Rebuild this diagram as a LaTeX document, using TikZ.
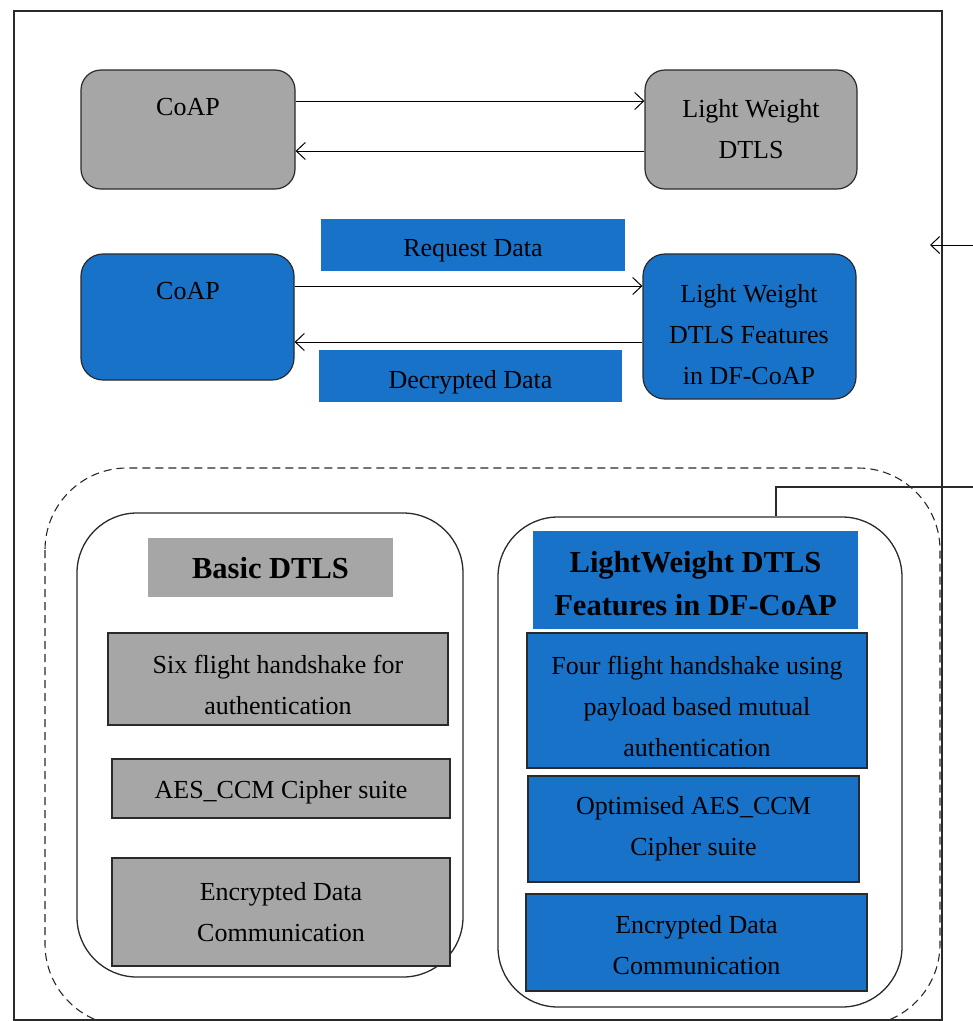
\documentclass[tikz,border=0pt]{standalone}
\usepackage{fontspec}
\setmainfont{Liberation Serif}
\usetikzlibrary{arrows.meta}
\definecolor{boxgray}{HTML}{A6A6A6}
\definecolor{boxblue}{HTML}{1872C8}
\definecolor{edge}{HTML}{2A2A2A}

\begin{document}
\begin{tikzpicture}[x=1pt,y=-1pt,
  txt/.style={font=\fontsize{26}{41}\selectfont, align=center, inner sep=0pt},
  hdrtxt/.style={font=\bfseries\fontsize{30.5}{43}\selectfont, align=center, inner sep=0pt},
  roundgray/.style={draw=edge, line width=1.2pt, fill=boxgray, rounded corners=20pt, inner sep=0pt},
  roundblue/.style={draw=edge, line width=1.2pt, fill=boxblue, rounded corners=22pt, inner sep=0pt},
  flatgray/.style={draw=edge, line width=1.2pt, fill=boxgray, inner sep=0pt},
  flatblue/.style={draw=edge, line width=1.2pt, fill=boxblue, inner sep=0pt},
  tagblue/.style={fill=boxblue, inner sep=0pt},
  taggray/.style={fill=boxgray, inner sep=0pt},
  panel/.style={draw=edge, line width=1.3pt, rounded corners=60pt, inner sep=0pt},
  arr/.style={draw=black, line width=1pt, -{Straight Barb[length=9pt,width=17pt,line width=1pt]}}
]
\clip (0,0) rectangle (973,1021);
\fill[white] (0,0) rectangle (973,1021);

% outer frame
\draw[edge, line width=1.2pt] (14,11) rectangle (942,1020);

% upper row: plain CoAP with lightweight DTLS
\node[roundgray, minimum width=214, minimum height=119] (coapA) at (188,129.5) {};
\node[txt] (coapAtxt) at (188,107) {CoAP};
\node[roundgray, minimum width=212, minimum height=119] (lwA) at (751,129.5) {};
\node[txt] (lwAtxt) at (lwA.center) {Light Weight\\DTLS};
\draw[arr] ([yshift=28.5pt]coapA.east) -- ([yshift=28.5pt]lwA.west);
\draw[arr] ([yshift=-21.5pt]lwA.west) -- ([yshift=-21.5pt]coapA.east);

% second row: DF-CoAP exchange
\node[roundblue, minimum width=213, minimum height=126] (coapB) at (187.5,317) {};
\node[txt] (coapBtxt) at (188,291) {CoAP};
\node[roundblue, minimum width=213, minimum height=145] (lwB) at (749.5,326.5) {};
\node[txt] (lwBtxt) at (749,335) {Light Weight\\DTLS Features\\in DF-CoAP};
\node[tagblue, minimum width=304, minimum height=52] (req) at (473,245) {};
\node[txt] (reqTxt) at ([yshift=-6pt]req.center) {Request Data};
\node[tagblue, minimum width=303, minimum height=52] (dec) at (470.5,376) {};
\node[txt] (decTxt) at ([yshift=-6pt]dec.center) {Decrypted Data};
\draw[arr] ([yshift=31pt]coapB.east) -- ([yshift=40.5pt]lwB.west);
\draw[arr] ([yshift=-15.5pt]lwB.west) -- ([yshift=-25pt]coapB.east);

% feed arrow entering from the right
\coordinate (feedTop) at (973,245);
\coordinate (feedTopEnd) at (930,245);
\draw[arr] (feedTop) -- (feedTopEnd);

% comparison group
\draw[edge, line width=1.1pt, dash pattern=on 8pt off 5pt, rounded corners=82pt] (45,468) rectangle (940,1026);

\node[panel, minimum width=386, minimum height=464] (leftPanel) at (270,745) {};
\node[panel, minimum width=404, minimum height=490] (rightPanel) at (700,762) {};

\coordinate (feedLow) at (973,487);
\draw[edge, line width=1.2pt] (feedLow) -| ([xshift=76pt]rightPanel.north);

% basic DTLS column
\node[taggray, minimum width=245, minimum height=59] (basicHdr) at (270.5,567.5) {};
\node[hdrtxt] (basicHdrTxt) at ([yshift=-1pt]basicHdr.center) {Basic DTLS};
\node[flatgray, minimum width=340, minimum height=92] (six) at (278,679) {};
\node[txt] (sixTxt) at ([yshift=-6pt]six.center) {Six flight handshake for\\authentication};
\node[flatgray, minimum width=338, minimum height=59] (aes) at (281,788.5) {};
\node[txt] (aesTxt) at ([yshift=-4pt]aes.center) {AES\_CCM Cipher suite};
\node[flatgray, minimum width=338, minimum height=108] (encL) at (281,912) {};
\node[txt] (encLTxt) at (encL.center) {Encrypted Data\\Communication};

% lightweight DTLS column
\node[tagblue, minimum width=325, minimum height=98] (lwHdr) at (695.5,580) {};
\node[hdrtxt] (lwHdrTxt) at ([yshift=-4pt]lwHdr.center) {LightWeight DTLS\\Features in DF-CoAP};
\node[flatblue, minimum width=340, minimum height=135] (four) at (697,700.5) {};
\node[txt] (fourTxt) at ([yshift=-6pt]four.center) {Four flight handshake using\\payload based mutual\\authentication};
\node[flatblue, minimum width=331, minimum height=106] (optAes) at (693.5,829) {};
\node[txt] (optAesTxt) at (optAes.center) {Optimised AES\_CCM\\Cipher suite};
\node[flatblue, minimum width=341, minimum height=97] (encR) at (696.5,942.5) {};
\node[txt] (encRTxt) at ([yshift=-3pt]encR.center) {Encrypted Data\\Communication};
\end{tikzpicture}
\end{document}
